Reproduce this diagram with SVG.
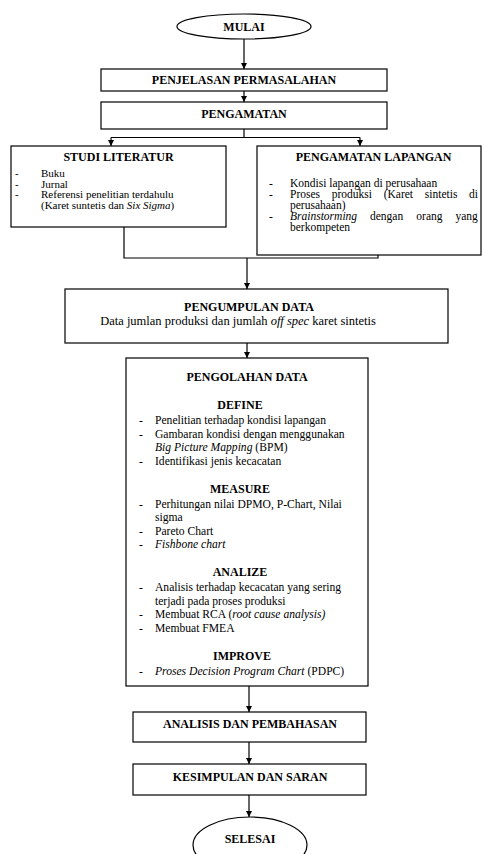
<svg xmlns="http://www.w3.org/2000/svg" width="482" height="854" viewBox="0 0 482 854" font-family="'Liberation Serif', 'Times New Roman', serif">
<defs>
<marker id="ah" markerWidth="7" markerHeight="7" refX="6" refY="3.5" orient="auto" markerUnits="userSpaceOnUse">
<path d="M0,0.5 L6,3.5 L0,6.5 Z" fill="#000"/>
</marker>
<style>
.box{fill:#fff;stroke:#000;stroke-width:1.2}
.ln{fill:none;stroke:#000;stroke-width:1.2}
.arr{fill:none;stroke:#000;stroke-width:1.2;marker-end:url(#ah)}
text{font-family:'Liberation Serif','Times New Roman',serif;fill:#000}
.t{font-size:12px;font-weight:bold;text-anchor:middle}
.b{font-size:11px}
.l{font-size:11.5px}
.p{font-size:11.6px}
.c{font-size:12.5px;text-anchor:middle}
.i{font-style:italic}
</style>
</defs>
<rect width="482" height="854" fill="#fff"/>

<g id="connectors">
<line class="arr" x1="244" y1="39" x2="244" y2="69"/>
<line class="arr" x1="244" y1="91" x2="244" y2="102"/>
<polyline class="ln" points="244,129 244,137.5"/>
<polyline class="ln" points="111,137.5 360,137.5"/>
<line class="arr" x1="111" y1="137.5" x2="111" y2="146"/>
<line class="arr" x1="360" y1="137.5" x2="360" y2="146"/>
<polyline class="ln" points="124,227 124,258 378,258 378,255"/>
<line class="arr" x1="247" y1="258" x2="247" y2="289"/>
<line class="arr" x1="247" y1="343" x2="247" y2="358"/>
<line class="arr" x1="249" y1="686" x2="249" y2="712"/>
<line class="arr" x1="249" y1="742" x2="249" y2="764"/>
<line class="arr" x1="249" y1="795" x2="249" y2="817"/>
</g>

<g id="mulai">
<ellipse class="box" cx="244" cy="26.5" rx="67" ry="12.5"/>
<text class="t" x="244" y="30.5">MULAI</text>
</g>

<g id="penjelasan">
<rect class="box" x="101" y="69" width="286" height="22"/>
<text class="t" x="244" y="84">PENJELASAN PERMASALAHAN</text>
</g>

<g id="pengamatan">
<rect class="box" x="101" y="102" width="286" height="27"/>
<text class="t" x="244" y="118">PENGAMATAN</text>
</g>

<g id="studi">
<rect class="box" x="11" y="146" width="215" height="81"/>
<text class="t" x="118.5" y="161">STUDI LITERATUR</text>
<text class="b" x="15" y="177">-</text><text class="b" x="41" y="177">Buku</text>
<text class="b" x="15" y="187.5">-</text><text class="b" x="41" y="187.5">Jurnal</text>
<text class="b" x="15" y="198">-</text><text class="b" x="41" y="198">Referensi penelitian terdahulu</text>
<text class="b" x="41" y="208.5">(Karet suntetis dan <tspan class="i">Six Sigma</tspan>)</text>
</g>

<g id="lapangan">
<rect class="box" x="257" y="146" width="224" height="109"/>
<text class="t" x="373.5" y="161">PENGAMATAN LAPANGAN</text>
<text class="l" x="269" y="187">-</text><text class="l" x="290" y="187">Kondisi lapangan di perusahaan</text>
<text class="l" x="269" y="198">-</text><text class="l" y="198"><tspan x="290">Proses</tspan><tspan x="331.7">produksi</tspan><tspan x="383.7">(Karet</tspan><tspan x="424.8">sintetis</tspan><tspan x="469">di</tspan></text>
<text class="l" x="290" y="209">perusahaan)</text>
<text class="l" x="269" y="220">-</text><text class="l" y="220"><tspan class="i" x="290">Brainstorming</tspan><tspan x="370">dengan</tspan><tspan x="416.3">orang</tspan><tspan x="455.5">yang</tspan></text>
<text class="l" x="290" y="231">berkompeten</text>
</g>

<g id="pengumpulan">
<rect class="box" x="65" y="289" width="383" height="54"/>
<text class="t" x="249" y="311">PENGUMPULAN DATA</text>
<text class="c" x="238" y="325">Data jumlan produksi dan jumlah <tspan class="i">off spec</tspan> karet sintetis</text>
</g>

<g id="pengolahan">
<rect class="box" x="126" y="358" width="242" height="328"/>
<text class="t" x="247" y="381">PENGOLAHAN DATA</text>
<text class="t" x="240" y="409">DEFINE</text>
<text class="p" x="139" y="424">-</text><text class="p" x="155" y="424">Penelitian terhadap kondisi lapangan</text>
<text class="p" x="139" y="437.5">-</text><text class="p" x="155" y="437.5">Gambaran kondisi dengan menggunakan</text>
<text class="p" x="155" y="451"><tspan class="i">Big Picture Mapping</tspan> (BPM)</text>
<text class="p" x="139" y="464.5">-</text><text class="p" x="155" y="464.5">Identifikasi jenis kecacatan</text>
<text class="t" x="240" y="492.5">MEASURE</text>
<text class="p" x="139" y="507.5">-</text><text class="p" x="155" y="507.5">Perhitungan nilai DPMO, P-Chart, Nilai</text>
<text class="p" x="155" y="521">sigma</text>
<text class="p" x="139" y="534.5">-</text><text class="p" x="155" y="534.5">Pareto Chart</text>
<text class="p" x="139" y="548">-</text><text class="p i" x="155" y="548">Fishbone chart</text>
<text class="t" x="240" y="576">ANALIZE</text>
<text class="p" x="139" y="591">-</text><text class="p" x="155" y="591">Analisis terhadap kecacatan yang sering</text>
<text class="p" x="155" y="604.5">terjadi pada proses produksi</text>
<text class="p" x="139" y="618">-</text><text class="p" x="155" y="618">Membuat RCA (<tspan class="i">root cause analysis)</tspan></text>
<text class="p" x="139" y="631.5">-</text><text class="p" x="155" y="631.5">Membuat FMEA</text>
<text class="t" x="242" y="659.5">IMPROVE</text>
<text class="p" x="139" y="674.5">-</text><text class="p" x="155" y="674.5"><tspan class="i">Proses Decision Program Chart</tspan> (PDPC)</text>
</g>

<g id="analisis">
<rect class="box" x="133" y="712" width="233" height="30"/>
<text class="t" x="250" y="728">ANALISIS DAN PEMBAHASAN</text>
</g>

<g id="kesimpulan">
<rect class="box" x="133" y="764" width="233" height="31"/>
<text class="t" x="250" y="781">KESIMPULAN DAN SARAN</text>
</g>

<g id="selesai">
<ellipse class="box" cx="250" cy="845" rx="57" ry="28"/>
<text class="t" x="250" y="843">SELESAI</text>
</g>
</svg>
